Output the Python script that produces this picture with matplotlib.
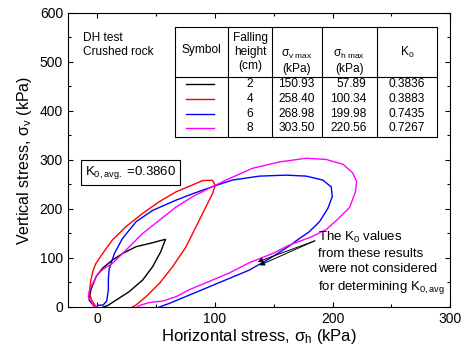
import numpy as np
import matplotlib
matplotlib.use('Agg')
import matplotlib.pyplot as plt
from matplotlib.ticker import MultipleLocator

plt.rcParams['font.family'] = ['Liberation Sans', 'DejaVu Sans']
plt.rcParams['mathtext.fontset'] = 'custom'
plt.rcParams['mathtext.rm'] = 'Liberation Sans'
plt.rcParams['mathtext.it'] = 'Liberation Sans'

# stress paths (kPa) for each falling height
h2_x = [-3, -7, -5.5, -1, 4.5, 13, 21.5, 33, 47, 53, 58, 54, 47, 38.6, 27, 16, 9, 5]
h2_y = [2, 14, 35, 62, 79, 96, 109, 123, 131, 135, 138, 113, 82, 55, 31, 14, 3, 0]

h4_x = [-1, -4.8, -6.8, -6.2, -5.4, -3.4, -1.1, 4.5, 13, 24.4, 38.6, 52.8, 67, 81, 89.6, 98,
        100.3, 98.1, 92.5, 84, 75.5, 64, 52.8, 41.4, 33, 30]
h4_y = [0, 14, 28, 41, 55, 76, 89, 109, 137, 164, 191, 215, 235, 249, 258, 258.4,
        248, 232, 205, 164, 123, 82, 48, 21, 4, 0]

h6_x = [-1, 1, 5, 8, 9.4, 9.4, 10, 14.5, 21.5, 33, 47, 67, 81, 101, 115, 138, 160.6, 177.6,
        191.7, 198.9, 199.8, 196, 189, 180, 172, 163, 146, 129, 112, 95, 78, 61, 52.8]
h6_y = [0, 3.5, 4, 12, 35, 55, 76, 109, 140, 174, 197, 218, 231, 248, 259, 267, 269, 267,
        259, 245, 225, 201, 174, 153, 140, 124, 98, 75, 58, 41, 24, 7, 0]

h8_x = [0, -3.4, -7.7, -6.5, -4.5, 0, 5, 13, 24.4, 38.6, 52.8, 67, 81, 95, 109.5, 132, 155,
        177.6, 194.6, 209, 217, 220.5, 219.5, 214.5, 204, 194.6, 182, 172, 163, 149, 129, 112,
        95, 78, 67, 55.6, 44, 36, 34]
h8_y = [0, 3.5, 21, 35, 45, 66, 77, 89, 116, 150, 177, 204, 225, 242, 259, 283, 296,
        303.5, 301, 291, 274, 256, 235, 203, 178, 158, 143, 134, 126, 109, 90, 69,
        52, 35, 21, 12, 9, 3, 0]

heights = ['2', '4', '6', '8']
sv_max = ['150.93', '258.40', '268.98', '303.50']
sh_max = ['57.89', '100.34', '199.98', '220.56']
k0 = ['0.3836', '0.3883', '0.7435', '0.7267']
colors = ['black', 'red', 'blue', 'magenta']

fig = plt.figure(figsize=(4.65, 3.5), dpi=100)
ax = fig.add_axes([0.146, 0.123, 0.822, 0.840])

for xs, ys, c in zip([h2_x, h4_x, h6_x, h8_x], [h2_y, h4_y, h6_y, h8_y], colors):
    ax.plot(xs, ys, color=c, lw=1.0)

ax.set_xlim(-25, 300)
ax.set_ylim(0, 600)
ax.xaxis.set_major_locator(MultipleLocator(100))
ax.xaxis.set_minor_locator(MultipleLocator(50))
ax.yaxis.set_major_locator(MultipleLocator(100))
ax.yaxis.set_minor_locator(MultipleLocator(50))
ax.tick_params(which='both', direction='in', top=True, right=True, labelsize=10, width=0.8)
ax.tick_params(which='major', length=3.5)
ax.tick_params(which='minor', length=2)
for s in ax.spines.values():
    s.set_linewidth(0.8)

ax.set_xlabel('Horizontal stress, σ$_\\mathregular{h}$ (kPa)', fontsize=12, labelpad=1)
ax.set_ylabel('Vertical stress, σ$_\\mathregular{v}$ (kPa)', fontsize=11.5, labelpad=4)

ax.text(0.04, 0.935, 'DH test\nCrushed rock', transform=ax.transAxes, fontsize=8.6,
        va='top', ha='left', linespacing=1.2)

# summary table
tx = [0.280, 0.420, 0.533, 0.664, 0.808, 0.965]
ty_top, ty_head, ty_bot = 0.953, 0.782, 0.579
tk = dict(transform=ax.transAxes, color='black', lw=0.8)
ax.plot([tx[0], tx[-1], tx[-1], tx[0], tx[0]], [ty_top, ty_top, ty_bot, ty_bot, ty_top], **tk)
ax.plot([tx[0], tx[-1]], [ty_head, ty_head], **tk)
for x in tx[1:-1]:
    ax.plot([x, x], [ty_top, ty_bot], **tk)

fs = 8.6
tt = dict(transform=ax.transAxes, fontsize=fs, va='center', ha='center')
ax.text((tx[0] + tx[1]) / 2, 0.874, 'Symbol', **tt)
ax.text((tx[1] + tx[2]) / 2, 0.868, 'Falling\nheight\n(cm)', linespacing=1.25, **tt)
ax.text((tx[2] + tx[3]) / 2, 0.835, 'σ$_\\mathregular{v\\ max}$\n(kPa)', linespacing=1.3, **tt)
ax.text((tx[3] + tx[4]) / 2, 0.835, 'σ$_\\mathregular{h\\ max}$\n(kPa)', linespacing=1.3, **tt)
ax.text((tx[4] + tx[5]) / 2, 0.864, 'K$_\\mathregular{0}$', **tt)

row_y = [0.760, 0.708, 0.657, 0.608]
for i in range(4):
    y = row_y[i]
    ax.plot([0.310, 0.382], [y, y], color=colors[i], lw=1.0, transform=ax.transAxes)
    ax.text((tx[1] + tx[2]) / 2, y, heights[i], **tt)
    ax.text((tx[2] + tx[3]) / 2, y, sv_max[i], **tt)
    ax.text(0.781, y, sh_max[i], transform=ax.transAxes, fontsize=fs, va='center', ha='right')
    ax.text((tx[4] + tx[5]) / 2, y, k0[i], **tt)

ax.text(0.165, 0.456, 'K$_\\mathregular{0,avg.}$ =0.3860', transform=ax.transAxes, fontsize=9.5,
        ha='center', va='center',
        bbox=dict(boxstyle='square,pad=0.3', fc='white', ec='black', lw=0.8))

ax.text(0.654, 0.262, 'The K$_\\mathregular{0}$ values\nfrom these results\nwere not considered\n'
        'for determining K$_\\mathregular{0,avg}$', transform=ax.transAxes, fontsize=9.5,
        ha='left', va='top', linespacing=1.35)

for end in [(136.4, 92), (138, 85)]:
    ax.annotate('', xy=end, xytext=(185, 135),
                arrowprops=dict(arrowstyle='-|>', lw=0.7, color='black', mutation_scale=7,
                                shrinkA=0, shrinkB=0))

fig.savefig('out.png', dpi=100)
